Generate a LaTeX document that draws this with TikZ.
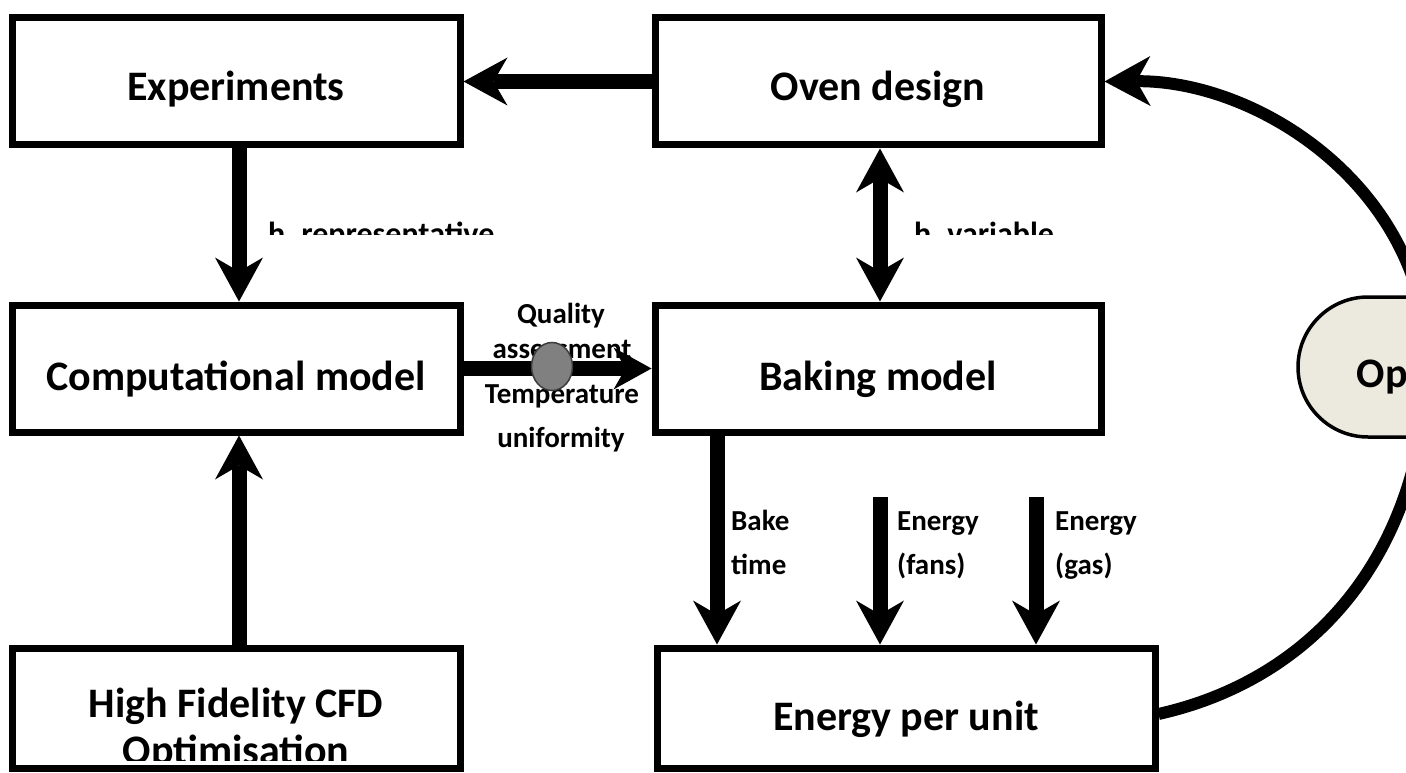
\documentclass[tikz,border=0pt]{standalone}
\usepackage{fontspec}
\setmainfont{Carlito}
\usetikzlibrary{arrows.meta,shapes.geometric}
\pgfdeclarelayer{bg}
\pgfsetlayers{bg,main}
\definecolor{opfill}{RGB}{236,233,222}
\definecolor{dotfill}{RGB}{128,128,128}
\definecolor{dotline}{RGB}{60,60,60}
\tikzset{
  >={Stealth[length=44pt,width=48pt,inset=14pt,line width=0pt]},
  bx/.style={draw, line width=7pt, inner sep=0pt, fill=white, text height=#1, text depth=0pt,
    font=\fontsize{42}{50}\selectfont\bfseries},
  bigtxt/.style={inner sep=0pt, font=\fontsize{42}{50}\selectfont\bfseries},
  lbl/.style={inner sep=0pt, font=\fontsize{29}{35}\selectfont\bfseries},
  hlbl/.style={inner sep=0pt, font=\fontsize{32}{38}\selectfont\bfseries},
  arr/.style={line width=15pt, ->},
  darr/.style={line width=15pt, <->},
  midarr/.style={line width=15pt, -{Stealth[length=38pt,width=42pt,inset=12pt,line width=0pt]}},
  loopline/.style={line width=12pt},
  looparr/.style={line width=12pt, -{Stealth[length=46pt,width=50pt,inset=14pt,line width=0pt]}},
}
\begin{document}
\begin{tikzpicture}[x=1pt,y=-1pt]
\path[use as bounding box, clip] (0,0) rectangle (1406,773);
\begin{pgfonlayer}{bg}
\fill[white] (0,0) rectangle (1406,773);
\end{pgfonlayer}

% boxes
\node[bx=38pt, minimum width=448pt, minimum height=127pt] (exp) at (236,81.5) {Experiments};
\node[bx=38pt, minimum width=446pt, minimum height=127pt] (oven) at (878,81.5) {Oven design};
\node[bx=43pt, minimum width=448pt, minimum height=127pt] (comp) at (236,368.5) {Computational model};
\node[bx=43pt, minimum width=446pt, minimum height=127pt] (bake) at (878,368.5) {Baking model};
\node[bx=0pt, minimum width=448pt, minimum height=120pt] (hifi) at (236,708) {};
\node[bx=44pt, minimum width=498pt, minimum height=120pt] (energy) at (906,708) {Energy per unit};
\node[draw, line width=3.5pt, fill=opfill, rounded corners=70pt, minimum width=344pt,
      minimum height=140pt, inner sep=0pt, text height=40pt, text depth=0pt,
      font=\fontsize{42}{50}\selectfont\bfseries] (op) at (1470,367) {Optimisation};

% text of the High Fidelity box (cut at its lower edge)
\begin{scope}
\clip (0,0) rectangle (1406,760);
\node[bigtxt, anchor=base] (hifi1) at (236,717) {High Fidelity CFD};
\node[bigtxt, anchor=base] (hifi2) at (236,764) {Optimisation};
\end{scope}

% clipped h labels
\begin{scope}
\clip (0,0) rectangle (1406,234);
\node[hlbl, anchor=base west] (hrep) at (268,244) {h\_representative};
\node[hlbl, anchor=base west] (hvar) at (914,244) {h\_variable};
\end{scope}

% labels on the middle connector
\node[lbl, anchor=base] (q1) at (561,323) {Quality};
\node[lbl, anchor=base] (q2) at (562,358) {assessment};
\node[lbl, anchor=base] (q3) at (562,403) {Temperature};
\node[lbl, anchor=base] (q4) at (561,447) {uniformity};

% labels of the energy inputs
\node[lbl, anchor=base west] (l1) at (731,530) {Bake};
\node[lbl, anchor=base west] (l2) at (731,574) {time};
\node[lbl, anchor=base west] (l3) at (897,530) {Energy};
\node[lbl, anchor=base west] (l4) at (897,574) {(fans)};
\node[lbl, anchor=base west] (l5) at (1055,530) {Energy};
\node[lbl, anchor=base west] (l6) at (1055,574) {(gas)};

% connectors
\draw[arr] (oven.west) -- (exp.east);
\draw[arr] ([xshift=3pt]exp.south) -- ([xshift=3pt]comp.north);
\draw[arr] ([xshift=3pt]hifi.north) -- ([xshift=3pt]comp.south);
\draw[darr] ([xshift=2pt]oven.south) -- ([xshift=2pt]bake.north);
\draw[midarr] (comp.east) -- (bake.west);

\coordinate (bt) at (717,497);
\coordinate (fans) at (880,497);
\coordinate (gas) at (1036,497);
\draw[arr] (bake.south -| bt) -- (energy.north -| bt);
\draw[arr] (fans) -- (energy.north -| fans);
\draw[arr] (gas) -- (energy.north -| gas);

\node[ellipse, draw=dotline, line width=1.5pt, fill=dotfill, minimum width=41pt,
      minimum height=48pt, inner sep=0pt] (dot) at (552,366.5) {};

% optimisation loop (behind the Optimisation node)
\begin{pgfonlayer}{bg}
\draw[loopline] ([yshift=-6pt]energy.east) .. controls (1310,680) and (1420,560) .. ([xshift=-42pt]op.center);
\draw[looparr] ([xshift=-42pt]op.center) .. controls (1428,190) and (1260,80) .. (oven.east);
\end{pgfonlayer}
\end{tikzpicture}
\end{document}
